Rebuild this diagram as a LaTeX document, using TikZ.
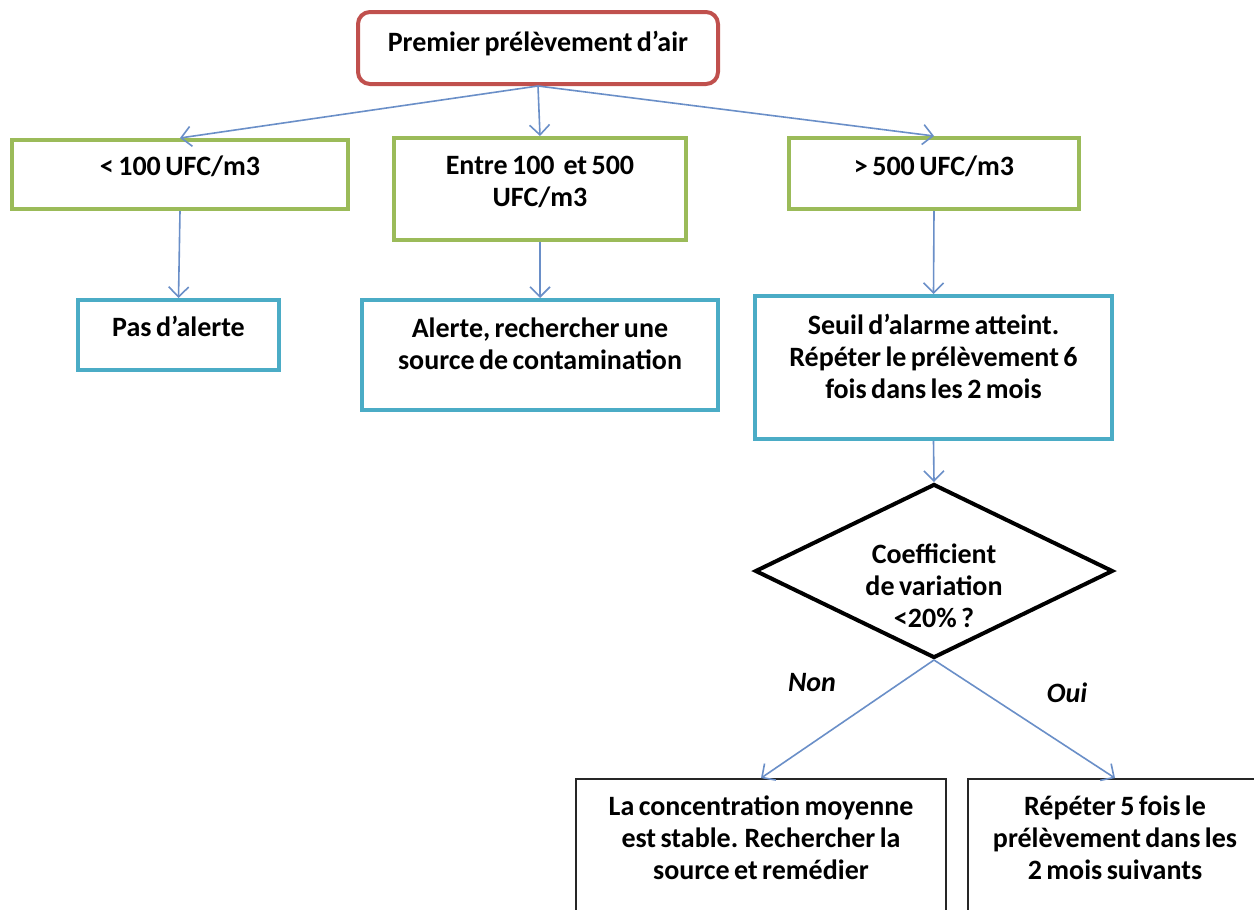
\documentclass[tikz,border=0pt]{standalone}
\usepackage{fontspec}
\setmainfont[WordSpace={0.7}]{Carlito}
\usetikzlibrary{arrows.meta,shapes.geometric}
\definecolor{cred}{HTML}{C0504D}
\definecolor{cgreen}{HTML}{9BBB59}
\definecolor{cblue}{HTML}{4BACC6}
\definecolor{carrow}{HTML}{6A8FC8}
\begin{document}
\begin{tikzpicture}[x=0.5pt,y=-0.5pt,
  txt/.style={font=\bfseries\fontsize{14}{16}\selectfont, align=center, inner sep=0pt},
  lbl/.style={font=\bfseries\itshape\fontsize{14}{16}\selectfont, inner sep=0pt},
  rbox/.style={draw=cred, line width=2pt, rounded corners=6pt, inner sep=0pt},
  gbox/.style={draw=cgreen, line width=2pt, inner sep=0pt},
  bbox/.style={draw=cblue, line width=2pt, inner sep=0pt},
  kbox/.style={draw=black!85, line width=0.9pt, inner sep=0pt},
  dia/.style={draw=black, line width=2pt, diamond, inner sep=0pt},
  arr/.style={draw=carrow, line width=0.8pt, -{Straight Barb[length=5pt,width=10pt]}}
]
\useasboundingbox (0,0) rectangle (1254,910);
\clip (0,0) rectangle (1254,910);
\fill[white] (0,0) rectangle (1254,910);

% boxes
\node[rbox, minimum width=180pt, minimum height=36pt] (top) at (538,48) {};
\node[gbox, minimum width=168pt, minimum height=34.5pt] (g1) at (180,174.5) {};
\node[gbox, minimum width=146pt, minimum height=51pt] (g2) at (540,189) {};
\node[gbox, minimum width=145pt, minimum height=35.5pt] (g3) at (934,173.5) {};
\node[bbox, minimum width=100.5pt, minimum height=35pt] (b1) at (178.5,335) {};
\node[bbox, minimum width=178pt, minimum height=55pt] (b2) at (540,355) {};
\node[bbox, minimum width=178.5pt, minimum height=71.5pt] (b3) at (933.5,367.5) {};
\node[dia, minimum width=179pt, minimum height=87pt] (d) at (934,571) {};
\node[kbox, minimum width=185pt, minimum height=75.5pt] (f1) at (761,854.5) {};
\node[kbox, minimum width=147pt, minimum height=75.5pt] (f2) at (1115,854.5) {};

% texts
\node[txt] (topt) at (538,44) {Premier prélèvement d’air};
\node[txt] (g1t) at (180,166) {< 100 UFC/m3};
\node[txt] (g2t) at (540,181.5) {Entre 100~ et 500\\UFC/m3};
\node[txt] (g3t) at (934,166) {> 500 UFC/m3};
\node[txt] (b1t) at (178.5,326) {Pas d’alerte};
\node[txt] (b2t) at (540,344) {Alerte, rechercher une\\source de contamination};
\node[txt] (b3t) at (933.5,356) {Seuil d’alarme atteint.\\Répéter le prélèvement 6\\fois dans les 2 mois};
\node[txt] (dt) at (934,586) {Coefficient\\de variation\\<20\% ?};
\node[txt] (f1t) at (761,838) {La concentration moyenne\\est stable. Rechercher la\\source et remédier};
\node[txt] (f2t) at (1115,838) {Répéter 5 fois le\\prélèvement dans les\\2 mois suivants};
\node[lbl] (non) at (812,683) {Non};
\node[lbl] (oui) at (1067,693) {Oui};

% connectors
\draw[arr] (top.south) -- (g1.north);
\draw[arr] (top.south) -- (g2.north);
\draw[arr] (top.south) -- (g3.north);
\draw[arr] (g1.south) -- (b1.north);
\draw[arr] (g2.south) -- (b2.north);
\draw[arr] (g3.south) -- (b3.north);
\draw[arr] (b3.south) -- (d.north);
\draw[arr] (d.south) -- (f1.north);
\draw[arr] (d.south) -- (f2.north);
\end{tikzpicture}
\end{document}
